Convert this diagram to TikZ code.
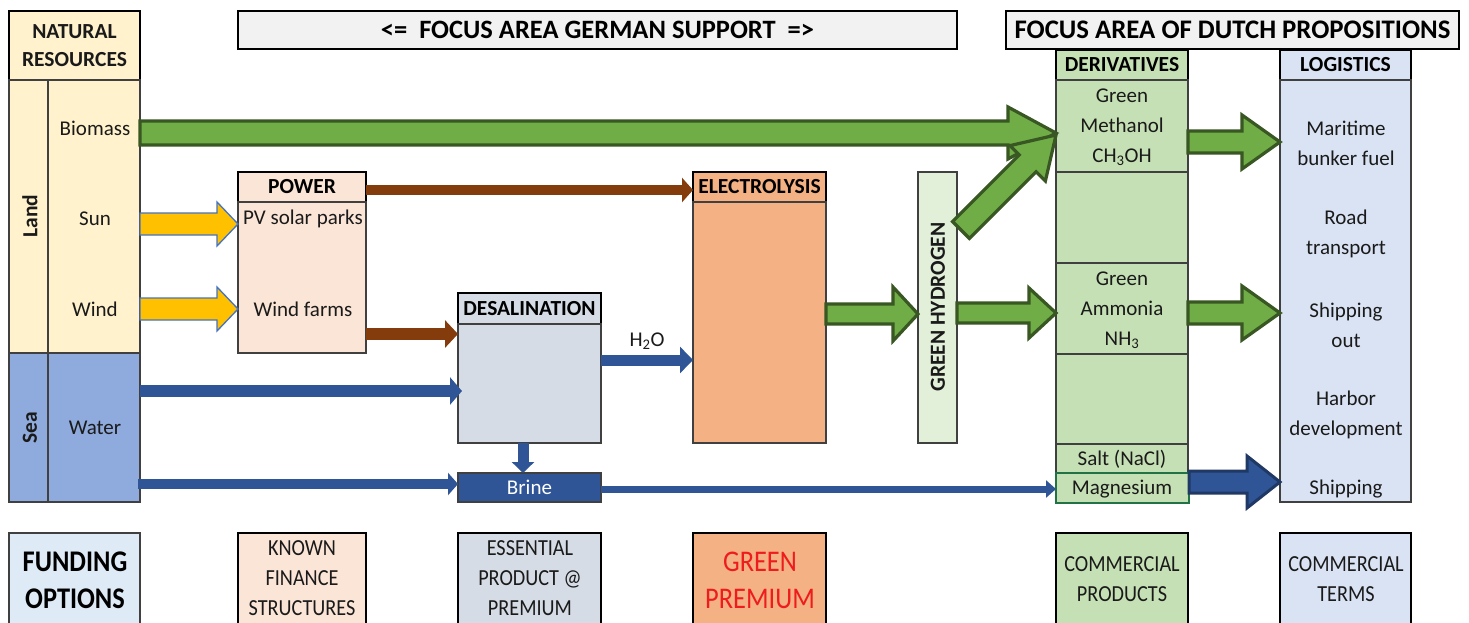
\documentclass[tikz,border=0pt]{standalone}
\usepackage{fontspec}
\setmainfont{Carlito}
\newfontfamily\narrowfont{Carlito}[FakeStretch=0.88]
\usetikzlibrary{arrows.meta,calc}
\definecolor{txt}{HTML}{1A1A1A}
\definecolor{linegray}{HTML}{404040}
\definecolor{resY}{HTML}{FFF2CC}
\definecolor{seaB}{HTML}{8FAADC}
\definecolor{hdrG}{HTML}{F2F2F2}
\definecolor{pwrF}{HTML}{FBE5D6}
\definecolor{desF}{HTML}{D6DCE5}
\definecolor{eleF}{HTML}{F4B183}
\definecolor{ghF}{HTML}{E2F0D9}
\definecolor{derF}{HTML}{C5E0B4}
\definecolor{logF}{HTML}{DAE3F3}
\definecolor{funF}{HTML}{DEEBF7}
\definecolor{brineF}{HTML}{2F5597}
\definecolor{arrB}{HTML}{2F5597}
\definecolor{arrBr}{HTML}{843C0C}
\definecolor{grF}{HTML}{70AD47}
\definecolor{grD}{HTML}{385723}
\definecolor{yeF}{HTML}{FFC000}
\definecolor{yeO}{HTML}{4472C4}
\definecolor{dbO}{HTML}{203864}
\definecolor{mgG}{HTML}{217346}
\definecolor{redT}{HTML}{EE1C1C}

% #1 style, #2 from, #3 to, #4 shaft half width, #5 head half width, #6 head length
\newcommand\blockarrow[6]{%
  \coordinate (bahead) at ($(#3)!#6!(#2)$);
  \draw[#1] ($(#2)!#4!90:(#3)$) -- ($(bahead)!#4!-90:(#2)$) -- ($(bahead)!#5!-90:(#2)$)
    -- (#3) -- ($(bahead)!#5!90:(#2)$) -- ($(bahead)!#4!90:(#2)$) -- ($(#2)!#4!-90:(#3)$) -- cycle;}
% #1 style, #2 name, #3 x, #4 y, #5 w, #6 h
\newcommand\cellnode[6]{\node[#1, minimum width=#5pt, minimum height=#6pt] (#2) at (#3,#4) {};}

\begin{document}
\begin{tikzpicture}[x=1pt,y=-1pt,
  cell/.style={draw=linegray, line width=1.3pt, inner sep=0pt, outer sep=0pt, anchor=north west},
  hdr/.style={cell, draw=black, line width=2.4pt},
  lbl/.style={inner sep=0pt, align=center, text=txt, font=\fontsize{21}{30}\selectfont},
  blbl/.style={lbl, font=\bfseries\fontsize{21.5}{28}\selectfont},
  btm/.style={lbl, font=\narrowfont\fontsize{23}{30}\selectfont},
  garrow/.style={fill=grF, draw=grD, line width=3.2pt, line join=miter},
  yarrow/.style={fill=yeF, draw=yeO, line width=1.3pt, line join=miter},
  darrow/.style={fill=brineF, draw=dbO, line width=3pt, line join=miter},
]
\useasboundingbox[fill=white] (0,0) rectangle (1469,623);

% ---------- natural resources ----------
\cellnode{hdr, fill=resY}{res}{9}{11}{131}{69}
\cellnode{cell, fill=resY}{land}{9}{80}{39}{273}
\cellnode{cell, fill=resY}{landcol}{48}{80}{92}{273}
\cellnode{cell, fill=seaB}{sea}{9}{353}{39}{149}
\cellnode{cell, fill=seaB}{water}{48}{353}{92}{149}
\node[blbl] (tres) at (res.center) {NATURAL\\RESOURCES};
\node[blbl, rotate=90] (tland) at (30,216) {Land};
\node[blbl, rotate=90] (tsea) at (30,428) {Sea};
\node[lbl] (tbio) at (95,128) {Biomass};
\node[lbl] (tsun) at (95,219) {Sun};
\node[lbl] (twind) at (95,309) {Wind};
\node[lbl] (twater) at (95,428) {Water};

% ---------- top headers ----------
\cellnode{hdr, fill=hdrG}{ger}{238}{11}{719}{38}
\node[lbl, font=\bfseries\fontsize{26.5}{30}\selectfont, text=black] (tger) at (ger.center) {<=\ \ FOCUS AREA GERMAN SUPPORT\ \ =>};
\cellnode{hdr, fill=hdrG}{dut}{1006}{11}{453}{38}
\node[lbl, font=\bfseries\fontsize{26.8}{30}\selectfont, text=black] (tdut) at (dut.center) {FOCUS AREA OF DUTCH PROPOSITIONS};

% ---------- power ----------
\cellnode{hdr, fill=pwrF}{pwrh}{238}{172}{128}{30}
\cellnode{cell, fill=pwrF}{pwrb}{238}{202}{128}{151}
\node[blbl, text=black] (tpwr) at (pwrh.center) {POWER};
\node[lbl] (tpv) at (303,219) {PV solar parks};
\node[lbl] (twf) at (303,309) {Wind farms};

% ---------- desalination ----------
\cellnode{hdr, fill=desF}{desh}{458}{293}{143}{31}
\cellnode{cell, fill=desF}{desb}{458}{324}{143}{119}
\node[blbl, text=black] (tdes) at (desh.center) {DESALINATION};
\cellnode{cell, fill=brineF}{brine}{458}{473}{143}{29}
\node[lbl, text=white] (tbrine) at (brine.center) {Brine};

% ---------- electrolysis ----------
\cellnode{cell, fill=eleF, draw=black}{eleh}{693}{172}{133}{30}
\cellnode{cell, fill=eleF}{eleb}{693}{202}{133}{241}
\node[blbl, text=black] (tele) at (eleh.center) {ELECTROLYSIS};

% ---------- green hydrogen ----------
\cellnode{cell, fill=ghF}{gh}{918}{172}{39}{271}
\node[blbl, rotate=90] (tgh) at (938,307) {GREEN HYDROGEN};

% ---------- derivatives ----------
\cellnode{hdr, fill=derF}{derh}{1056}{50}{132}{30}
\node[blbl, text=black] (tder) at (derh.center) {DERIVATIVES};
\cellnode{cell, fill=derF}{meth}{1056}{80}{132}{92}
\cellnode{cell, fill=derF}{der2}{1056}{172}{132}{91}
\cellnode{cell, fill=derF}{amm}{1056}{263}{132}{91}
\cellnode{cell, fill=derF}{der4}{1056}{354}{132}{90}
\cellnode{cell, fill=derF}{salt}{1056}{444}{132}{29}
\cellnode{cell, fill=derF, draw=mgG}{mg}{1056}{473}{133}{30}
\node[lbl] (tmeth) at (1122,127) {Green\\Methanol\\CH\textsubscript{3}OH};
\node[lbl] (tamm) at (1122,310) {Green\\Ammonia\\NH\textsubscript{3}};
\node[lbl] (tsalt) at (1122,459) {Salt (NaCl)};
\node[lbl] (tmg) at (1122,489) {Magnesium};

% ---------- logistics ----------
\cellnode{hdr, fill=logF}{logh}{1280}{50}{131}{30}
\node[blbl, text=black] (tlog) at (logh.center) {LOGISTICS};
\cellnode{cell, fill=logF}{logb}{1280}{80}{131}{422}
\node[lbl] (tmar) at (1346,143) {Maritime\\bunker fuel};
\node[lbl] (troad) at (1346,234) {Road\\transport};
\node[lbl] (tship) at (1346,325) {Shipping\\out};
\node[lbl] (tharb) at (1346,415) {Harbor\\development};
\node[lbl] (tship2) at (1346,489) {Shipping};

% ---------- funding row ----------
\cellnode{cell, fill=funF}{fund}{9}{533}{131}{95}
\node[lbl, font=\narrowfont\bfseries\fontsize{30}{37}\selectfont, text=black] (tfund) at (75,580) {FUNDING\\OPTIONS};
\cellnode{cell, draw=black, line width=2pt, fill=pwrF}{known}{238}{533}{128}{95}
\node[btm] (tknown) at (302,578) {KNOWN\\FINANCE\\STRUCTURES};
\cellnode{cell, draw=black, line width=2pt, fill=desF}{ess}{458}{533}{143}{95}
\node[btm] (tess) at (530,578) {ESSENTIAL\\PRODUCT @\\PREMIUM};
\cellnode{cell, draw=black, line width=2pt, fill=eleF}{gp}{693}{533}{133}{95}
\node[lbl, font=\narrowfont\fontsize{30}{37}\selectfont, text=redT] (tgp) at (760,580) {GREEN\\PREMIUM};
\cellnode{cell, draw=black, line width=2pt, fill=derF}{cp}{1056}{533}{132}{95}
\node[btm] (tcp) at (1122,579) {COMMERCIAL\\PRODUCTS};
\cellnode{cell, draw=black, line width=2pt, fill=logF}{ct}{1280}{533}{131}{95}
\node[btm] (tct) at (1346,579) {COMMERCIAL\\TERMS};

% ---------- line arrows ----------
\draw[line width=10pt, arrBr, -{Triangle[length=11pt,width=24pt]}] (pwrh.east |- 0,190) -- (eleh.west |- 0,190);
\draw[line width=12pt, arrBr, -{Triangle[length=13pt,width=27pt]}] (pwrb.east |- 0,334) -- (desb.west |- 0,334);
\coordinate (wdA) at (water.east |- 0,391);
\coordinate (wdB) at ($(desb.west |- 0,391)+(4,0)$);
\draw[line width=12pt, arrB, -{Triangle[length=12pt,width=27pt]}] (wdA) -- (wdB);
\draw[line width=10pt, arrB, -{Triangle[length=10pt,width=22pt]}] ($(water.east |- 0,484)+(-2,0)$) -- (brine.west |- 0,484);
\draw[line width=11pt, arrB, -{Triangle[length=11pt,width=22pt]}] (desb.south -| 523,0) -- (brine.north -| 523,0);
\draw[line width=11pt, arrB, -{Triangle[length=13pt,width=26pt]}] (desb.east |- 0,360) -- (eleb.west |- 0,360);
\node[lbl] (th2o) at (647,341) {H\textsubscript{2}O};
\draw[line width=7pt, arrB, -{Triangle[length=10pt,width=17pt]}] (brine.east |- 0,489) -- (mg.west |- 0,489);

% ---------- block arrows ----------
\coordinate (sunA) at (landcol.east |- 0,224);
\coordinate (sunB) at (pwrb.west |- 0,224);
\blockarrow{yarrow}{sunA}{sunB}{11pt}{22pt}{21pt}
\coordinate (windA) at (landcol.east |- 0,309);
\coordinate (windB) at (pwrb.west |- 0,309);
\blockarrow{yarrow}{windA}{windB}{11pt}{22pt}{21pt}

\coordinate (bioA) at (landcol.east |- 0,133);
\coordinate (bioB) at (meth.west |- 0,133);
\blockarrow{garrow}{bioA}{bioB}{12pt}{26pt}{48pt}
\coordinate (diagA) at ($(gh.east |- 0,230)+(4,0)$);
\coordinate (diagB) at (meth.west |- 0,135);
\blockarrow{garrow}{diagA}{diagB}{12pt}{25pt}{40pt}
\coordinate (egA) at (eleb.east |- 0,314);
\coordinate (egB) at (gh.west |- 0,314);
\blockarrow{garrow}{egA}{egB}{10pt}{27pt}{25pt}
\coordinate (gaA) at (gh.east |- 0,313);
\coordinate (gaB) at (amm.west |- 0,313);
\blockarrow{garrow}{gaA}{gaB}{10pt}{25pt}{27pt}
\coordinate (mmA) at (meth.east |- 0,142);
\coordinate (mmB) at (logb.west |- 0,142);
\blockarrow{garrow}{mmA}{mmB}{11pt}{27pt}{38pt}
\coordinate (asA) at (amm.east |- 0,313);
\coordinate (asB) at (logb.west |- 0,313);
\blockarrow{garrow}{asA}{asB}{11pt}{27pt}{38pt}
\coordinate (msA) at (mg.east |- 0,482);
\coordinate (msB) at (logb.west |- 0,482);
\blockarrow{darrow}{msA}{msB}{11pt}{26pt}{33pt}
\end{tikzpicture}
\end{document}
